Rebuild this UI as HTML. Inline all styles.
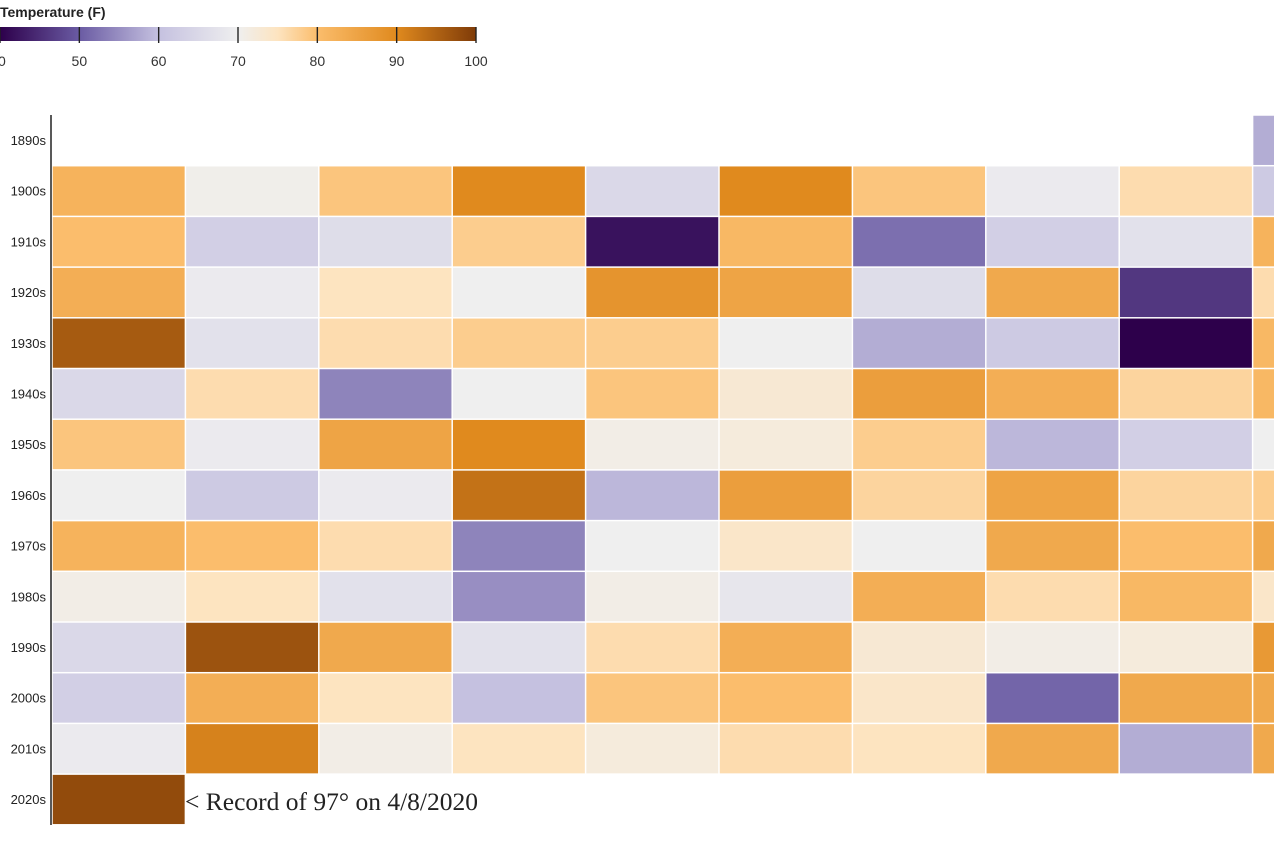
<!DOCTYPE html>
<html><head><meta charset="utf-8"><style>
body{margin:0;background:#fff;width:1274px;height:849px;overflow:hidden;font-family:"Liberation Sans",Arial,sans-serif}
</style></head><body>
<svg id="chart" width="1274" height="849">
<defs><linearGradient id="lg" x1="0" x2="1" y1="0" y2="0">
<stop offset="0" stop-color="#2d004b"/><stop offset="0.1667" stop-color="#6a5ba3"/><stop offset="0.3333" stop-color="#c5c1e0"/><stop offset="0.5" stop-color="#efefef"/><stop offset="0.5833" stop-color="#fde4c0"/><stop offset="0.6667" stop-color="#fbbd6c"/><stop offset="0.8333" stop-color="#e08a1e"/><stop offset="1" stop-color="#7f3b08"/>
</linearGradient></defs>
<text x="0" y="17" font-size="14" font-weight="bold" fill="#222">Temperature (F)</text>
<rect x="0" y="27" width="476" height="14" fill="url(#lg)"/>
<g id="legendTicks"></g>
<line x1="51" y1="115" x2="51" y2="825" stroke="#222" stroke-width="1.5"/>
<g id="cells"></g><g id="ylabels"></g>
<text x="185" y="810" font-family="'Liberation Serif',serif" font-size="25.5" fill="#222">&lt; Record of 97° on 4/8/2020</text>
</svg>
<script>
const decades=["1890s","1900s","1910s","1920s","1930s","1940s","1950s","1960s","1970s","1980s","1990s","2000s","2010s","2020s"];
const legendTicks=[40,50,60,70,80,90,100];
const temps=[
[null,null,null,null,null,null,null,null,null,58],
[82,70.5,79,90,65,90,79,69,76,62],
[80,63,66,78,42,81,52,63,67,82],
[83,69,75,70,88,85,66,84,46,76],
[96,67,76,78,78,70,58,62,40,81],
[65,76,54,70,79,73,86,83,77,81],
[79,69,85,90,71,72,78,59,63,70],
[70,62,69,93,59,86,77,85,77,78],
[82,80,76,54,70,74,70,84,80,84],
[71,75,67,55,71,68,83,76,81,74],
[65,97,84,67,76,83,73,71,72,87],
[63,83,75,60,79,80,74,51,84,84],
[69,91,71,75,72,76,75,84,58,84],
[98,null,null,null,null,null,null,null,null,null]];
const NS="http://www.w3.org/2000/svg";
const stops=[[40,[45,0,75]],[50,[106,91,163]],[60,[197,193,224]],[70,[239,239,239]],[75,[253,228,192]],[80,[251,189,108]],[90,[224,138,30]],[100,[127,59,8]]];
function color(v){for(let i=0;i<stops.length-1;i++){const a=stops[i],b=stops[i+1];if(v<=b[0]||i==stops.length-2){let t=Math.max(0,Math.min(1,(v-a[0])/(b[0]-a[0])));return "rgb("+a[1].map((c,k)=>Math.round(c+(b[1][k]-c)*t)).join(",")+")";}}}
const lx=v=>(v-40)/60*476;
const colX=i=>52+i*133.4, rowY=j=>115+j*50.7;
const lt=document.getElementById('legendTicks');
legendTicks.forEach(t=>{const l=document.createElementNS(NS,'line');l.setAttribute('x1',lx(t));l.setAttribute('x2',lx(t));l.setAttribute('y1',27);l.setAttribute('y2',43);l.setAttribute('stroke','#222');l.setAttribute('stroke-width',1.4);


lt.appendChild(l);const tx=document.createElementNS(NS,'text');tx.setAttribute('x',t==40?-2:lx(t));tx.setAttribute('y',66);tx.setAttribute('font-size',14);tx.setAttribute('fill','#333');tx.setAttribute('text-anchor','middle');tx.textContent=t;


lt.appendChild(tx);});
const cg=document.getElementById('cells'),yg=document.getElementById('ylabels');
decades.forEach((d,j)=>{const tx=document.createElementNS(NS,'text');tx.setAttribute('x',46);tx.setAttribute('y',rowY(j)+30);tx.setAttribute('font-size',13);tx.setAttribute('text-anchor','end');tx.setAttribute('fill','#222');tx.textContent=d;


yg.appendChild(tx);
temps[j].forEach((v,i)=>{if(v==null)return;const r=document.createElementNS(NS,'rect');r.setAttribute('x',colX(i)+0.75);r.setAttribute('y',rowY(j)+0.75);r.setAttribute('width',131.9);r.setAttribute('height',49.2);r.setAttribute('fill',color(v));


cg.appendChild(r);});});
</script>
</body></html>
